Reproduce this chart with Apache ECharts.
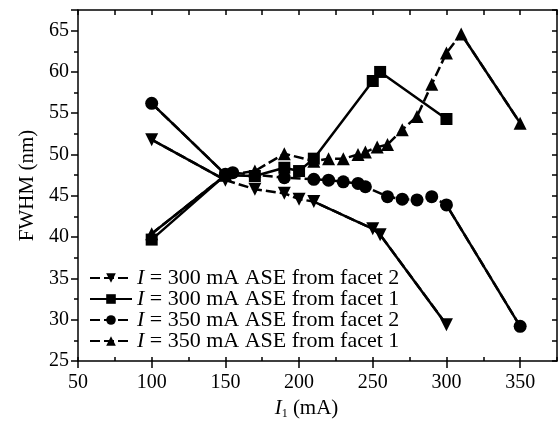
<!DOCTYPE html>
<html>
<head>
<meta charset="utf-8">
<script src="https://cdn.jsdelivr.net/npm/echarts@6/dist/echarts.min.js"></script>
<style>
html, body { margin: 0; padding: 0; background: #fff; }
#chart { width: 558px; height: 428px; }
</style>
</head>
<body>
<div id="chart"></div>
<script>
// I = 300 mA, facet 2 (down triangles)
const xDown = [100, 150, 170, 190, 200, 210, 250, 255, 300]
const yDown = [51.8, 46.9, 45.8, 45.3, 44.6, 44.3, 41.0, 40.3, 29.4]
// I = 300 mA, facet 1 (squares)
const xSquare = [100, 150, 170, 190, 200, 210, 250, 255, 300]
const ySquare = [39.7, 47.5, 47.4, 48.4, 48.0, 49.5, 58.9, 60.0, 54.3]
// I = 350 mA, facet 2 (circles)
const xCircle = [100, 150, 155, 190, 210, 220, 230, 240, 245, 260, 270, 280, 290, 300, 350]
const yCircle = [56.2, 47.6, 47.8, 47.2, 47.0, 46.9, 46.7, 46.5, 46.1, 44.9, 44.6, 44.5, 44.9, 43.9, 29.2]
// I = 350 mA, facet 1 (up triangles)
const xUp = [100, 150, 170, 190, 210, 220, 230, 240, 245, 253, 260, 270, 280, 290, 300, 310, 350]
const yUp = [40.4, 47.5, 48.0, 50.1, 49.2, 49.5, 49.5, 50.0, 50.3, 50.9, 51.2, 53.0, 54.6, 58.5, 62.3, 64.6, 53.8]

const names = [
  'I = 300 mA ASE from facet 2',
  'I = 300 mA ASE from facet 1',
  'I = 350 mA ASE from facet 2',
  'I = 350 mA ASE from facet 1'
]
const xTicks = [50, 100, 150, 200, 250, 300, 350]
const yTicks = [25, 30, 35, 40, 45, 50, 55, 60, 65]

const FONT = 'Liberation Serif'
const DOWN = 'path://M0,0 L10,0 L5,8.7 Z'

function pairs (xs, ys) {
  return xs.map((x, i) => [x, ys[i]])
}
// solid stretch between index a and b of a series
function seg (xs, ys, a, b) {
  return pairs(xs, ys).slice(a, b + 1)
}

function mainSeries (name, xs, ys, symbol, size, dashed) {
  return {
    name: name,
    type: 'line',
    data: pairs(xs, ys),
    symbol: symbol,
    symbolSize: size,
    itemStyle: { color: '#000' },
    lineStyle: { color: '#000', width: 2.5, type: dashed ? [10, 4] : 'solid' },
    z: 3
  }
}
function solidSeries (data) {
  return {
    type: 'line',
    data: data,
    symbol: 'none',
    silent: true,
    lineStyle: { color: '#000', width: 2.5 },
    z: 2
  }
}

const chart = echarts.init(document.getElementById('chart'))
const option = {
  animation: false,
  backgroundColor: '#fff',
  textStyle: { fontFamily: FONT },
  grid: { left: 78, right: 1, top: 10, bottom: 67 },
  legend: {
    data: names,
    orient: 'vertical',
    left: 84,
    top: 262,
    itemGap: -1,
    itemWidth: 42,
    itemHeight: 12,
    textStyle: {
      fontFamily: FONT,
      fontSize: 22,
      color: '#000',
      rich: { i: { fontStyle: 'italic', fontFamily: FONT, fontSize: 22, color: '#000' } }
    },
    formatter: n => '{i|I}' + n.slice(1)
  },
  xAxis: [
    {
      type: 'value',
      position: 'bottom',
      min: 50,
      max: 375,
      interval: 50,
      name: '{i|I}{s|1} (mA)',
      nameLocation: 'middle',
      nameGap: 30,
      nameTextStyle: {
        fontFamily: FONT,
        fontSize: 21,
        color: '#000',
        padding: [0, 22, 0, 0],
        rich: {
          i: { fontStyle: 'italic', fontFamily: FONT, fontSize: 21, color: '#000' },
          s: { fontFamily: FONT, fontSize: 12, color: '#000', verticalAlign: 'bottom', padding: [10, 0, 0, 0] }
        }
      },
      axisLine: { show: true, lineStyle: { color: '#000', width: 1.5 } },
      axisTick: { show: true, inside: false, length: 7, lineStyle: { color: '#000', width: 1.5 } },
      axisLabel: {
        margin: 12,
        fontSize: 20,
        fontFamily: FONT,
        color: '#000',
        showMaxLabel: false,
        formatter: v => (xTicks.indexOf(v) >= 0 ? String(v) : '')
      },
      splitLine: { show: false }
    },
    {
      type: 'value',
      position: 'top',
      min: 50,
      max: 375,
      interval: 25,
      axisLine: { show: true, lineStyle: { color: '#000', width: 1.5 } },
      axisTick: { show: true, inside: true, length: 5, lineStyle: { color: '#000', width: 1.5 } },
      axisLabel: { show: false },
      splitLine: { show: false }
    },
    {
      type: 'value',
      position: 'bottom',
      min: 50,
      max: 375,
      interval: 25,
      axisLine: { show: false },
      axisTick: { show: true, inside: true, length: 4, lineStyle: { color: '#000', width: 1.5 } },
      axisLabel: { show: false },
      splitLine: { show: false }
    }
  ],
  yAxis: [
    {
      type: 'value',
      position: 'left',
      min: 25,
      max: 67.5,
      interval: 5,
      name: 'FWHM (nm)',
      nameLocation: 'middle',
      nameGap: 38,
      nameTextStyle: { fontFamily: FONT, fontSize: 21, color: '#000' },
      axisLine: { show: true, lineStyle: { color: '#000', width: 1.5 } },
      axisTick: { show: true, inside: false, length: 7, lineStyle: { color: '#000', width: 1.5 } },
      minorTick: { show: true, splitNumber: 2, length: 4, lineStyle: { color: '#000', width: 1.5 } },
      axisLabel: {
        margin: 9,
        fontSize: 20,
        fontFamily: FONT,
        color: '#000',
        showMaxLabel: false,
        formatter: v => (yTicks.indexOf(v) >= 0 ? String(v) : '')
      },
      splitLine: { show: false }
    },
    {
      type: 'value',
      position: 'right',
      min: 25,
      max: 67.5,
      interval: 2.5,
      axisLine: { show: true, lineStyle: { color: '#000', width: 1.5 } },
      axisTick: { show: true, inside: true, length: 5, lineStyle: { color: '#000', width: 1.5 } },
      axisLabel: { show: false },
      splitLine: { show: false }
    }
  ],
  series: [
    mainSeries(names[0], xDown, yDown, DOWN, 13, true),
    mainSeries(names[1], xSquare, ySquare, 'rect', 12, false),
    mainSeries(names[2], xCircle, yCircle, 'circle', 13, true),
    mainSeries(names[3], xUp, yUp, 'triangle', 13, true),
    solidSeries(seg(xDown, yDown, 0, 1)),
    solidSeries(seg(xDown, yDown, 5, 8)),
    solidSeries(seg(xCircle, yCircle, 0, 1)),
    solidSeries(seg(xCircle, yCircle, 13, 14)),
    solidSeries(seg(xUp, yUp, 0, 1)),
    solidSeries(seg(xUp, yUp, 15, 16))
  ]
}
chart.setOption(option)
</script>
</body>
</html>
